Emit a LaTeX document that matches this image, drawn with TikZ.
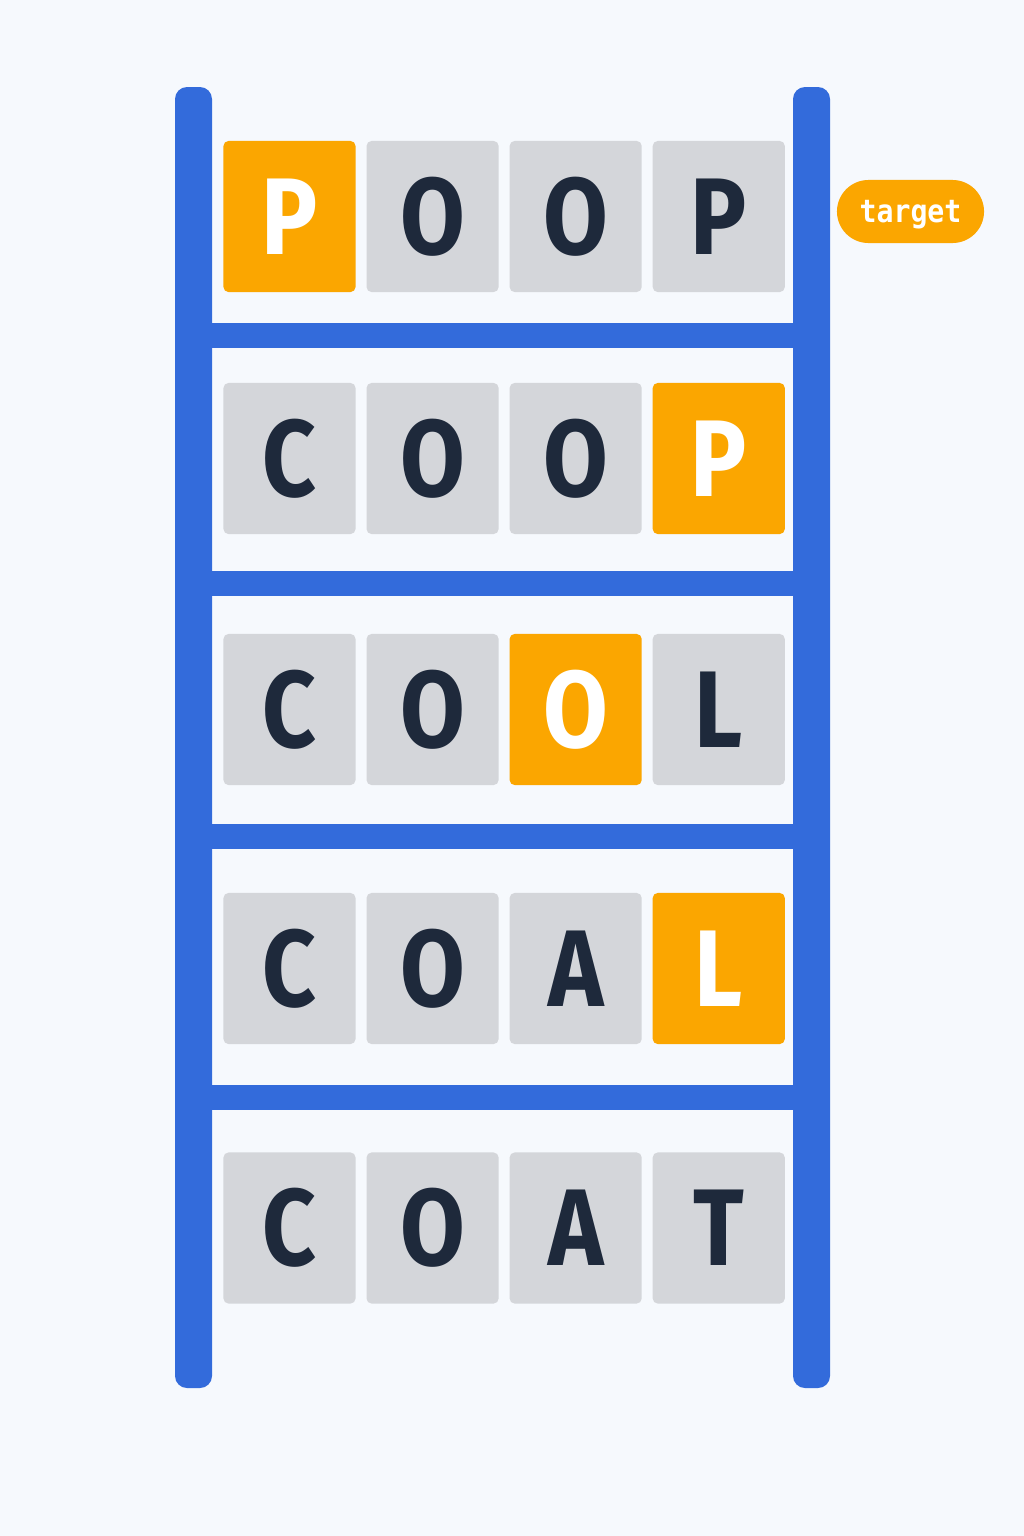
\documentclass[tikz,border=0pt]{standalone}
\usepackage{fontspec}
\setmainfont{Fira Sans}
\newfontfamily\tilefont[FakeStretch=0.86]{Fira Sans}
\newfontfamily\tagfont[FakeStretch=0.89]{DejaVu Sans Mono}
\usetikzlibrary{positioning}
\definecolor{paper}{RGB}{246,249,253}
\definecolor{railblue}{RGB}{51,107,219}
\definecolor{tilegray}{RGB}{212,214,218}
\definecolor{hitorange}{RGB}{251,166,0}
\definecolor{letterdark}{RGB}{30,41,59}
\newcommand{\tilewidth}{1.32cm}
\newcommand{\tileheight}{1.51cm}
\newcommand{\tilegap}{0.11cm}
\tikzstyle{tile}=[fill=tilegray,text=letterdark,draw=none,shape=rectangle,
                  rounded corners=0.05cm,inner sep=0pt,outer sep=0pt,
                  minimum width=\tilewidth,minimum height=\tileheight,
                  font=\tilefont\bfseries\fontsize{31}{31}\selectfont]
\tikzstyle{hit}=[tile,fill=hitorange,text=white]
\tikzstyle{rail}=[fill=railblue,draw=none,rounded corners=0.12cm]
\tikzstyle{rung}=[fill=railblue,draw=none]
\tikzstyle{tag}=[fill=hitorange,text=white,draw=none,shape=rectangle,
                 rounded corners=0.315cm,minimum width=1.47cm,minimum height=0.63cm,
                 text height=0.25cm,text depth=0.04cm,
                 font=\tagfont\bfseries\fontsize{9}{9}\selectfont]

\begin{document}
\begin{tikzpicture}[x=0.01cm,y=-0.01cm]
\fill[paper] (0,0) rectangle (1024,1536);
\useasboundingbox (0,0) rectangle (1024,1536);

% rails and rungs
\fill[rail] (175,87) rectangle (212,1388);
\fill[rail] (793,87) rectangle (830,1388);
\fill[rung] (212,323) rectangle (793,348);
\fill[rung] (212,571) rectangle (793,596);
\fill[rung] (212,824) rectangle (793,849);
\fill[rung] (212,1085) rectangle (793,1110);

% POOP
\node [hit] (r1c1) at (289.5,216.5) {P};
\node [tile, right=\tilegap of r1c1] (r1c2) {O};
\node [tile, right=\tilegap of r1c2] (r1c3) {O};
\node [tile, right=\tilegap of r1c3] (r1c4) {P};
\node [tag] (target) at (910.5,211.5) {target};

% COOP
\node [tile] (r2c1) at (289.5,458.5) {C};
\node [tile, right=\tilegap of r2c1] (r2c2) {O};
\node [tile, right=\tilegap of r2c2] (r2c3) {O};
\node [hit, right=\tilegap of r2c3] (r2c4) {P};

% COOL
\node [tile] (r3c1) at (289.5,709.5) {C};
\node [tile, right=\tilegap of r3c1] (r3c2) {O};
\node [hit, right=\tilegap of r3c2] (r3c3) {O};
\node [tile, right=\tilegap of r3c3] (r3c4) {L};

% COAL
\node [tile] (r4c1) at (289.5,968.5) {C};
\node [tile, right=\tilegap of r4c1] (r4c2) {O};
\node [tile, right=\tilegap of r4c2] (r4c3) {A};
\node [hit, right=\tilegap of r4c3] (r4c4) {L};

% COAT
\node [tile] (r5c1) at (289.5,1228) {C};
\node [tile, right=\tilegap of r5c1] (r5c2) {O};
\node [tile, right=\tilegap of r5c2] (r5c3) {A};
\node [tile, right=\tilegap of r5c3] (r5c4) {T};
\end{tikzpicture}
\end{document}
